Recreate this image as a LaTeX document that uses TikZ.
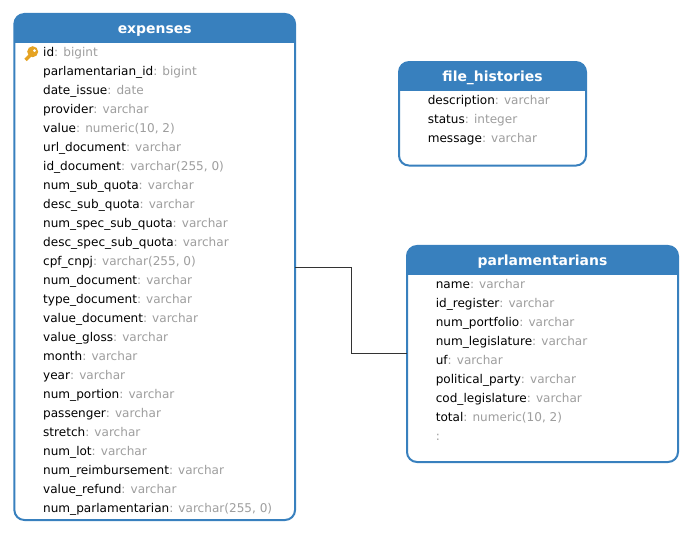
\documentclass[tikz,border=0pt]{standalone}
\usepackage{fontspec}
\setmainfont{DejaVu Sans}
\usetikzlibrary{positioning}

\definecolor{headblue}{HTML}{3880BE}
\definecolor{typegray}{HTML}{9E9E9E}
\definecolor{keyorange}{HTML}{E5A323}
\newcommand{\ctype}[1]{\textcolor{typegray}{: #1}}

\begin{document}
\begin{tikzpicture}[x=0.75pt, y=-0.75pt]
		\tikzset{
			tablebox/.style={draw=headblue, line width=1.5pt, rounded corners=7.5pt, outer sep=0pt, fill=white,
				path picture={\fill[headblue, sharp corners] (path picture bounding box.north west) rectangle ([yshift=-22pt]path picture bounding box.north east);}},
			tabletitle/.style={font=\fontsize{10.45}{12}\selectfont\bfseries, text=white, inner sep=0pt, outer sep=0pt, minimum height=22pt, text height=8.6pt, text depth=1.4pt},
			colrow/.style={font=\fontsize{9.05}{11}\selectfont, inner sep=0pt, outer sep=0pt, minimum height=14.25pt, text height=7pt, text depth=2pt, anchor=north west},
			rowbelow/.style={below=0pt of #1.south west, anchor=north west},
			link/.style={draw=black!80, line width=0.75pt}
		}
		\useasboundingbox (0,0) rectangle (692,534);
		
		% Tables
		\node[tablebox, minimum width=210.5pt, minimum height=379.5pt] (expenses) at (154.7,267) {};
		\node[tablebox, minimum width=140.25pt, minimum height=77.6pt] (fileHistories) at (492.5,113.8) {};
		\node[tablebox, minimum width=203.25pt, minimum height=162pt] (parlamentarians) at (542.5,354) {};
		
		% Titles
		\node[tabletitle, below=0pt of expenses.north] (expensesTitle) {expenses};
		\node[tabletitle, below=0pt of fileHistories.north] (fileHistoriesTitle) {file\_histories};
		\node[tabletitle, below=0pt of parlamentarians.north] (parlamentariansTitle) {parlamentarians};
		
		% Columns of expenses
		\node[colrow, below right=22.2pt and 21.6pt of expenses.north west] (expId) {id\ctype{bigint}};
		\node[colrow, rowbelow=expId] (expParlId) {parlamentarian\_id\ctype{bigint}};
		\node[colrow, rowbelow=expParlId] (expDate) {date\_issue\ctype{date}};
		\node[colrow, rowbelow=expDate] (expProvider) {provider\ctype{varchar}};
		\node[colrow, rowbelow=expProvider] (expValue) {value\ctype{numeric(10, 2)}};
		\node[colrow, rowbelow=expValue] (expUrl) {url\_document\ctype{varchar}};
		\node[colrow, rowbelow=expUrl] (expIdDoc) {id\_document\ctype{varchar(255, 0)}};
		\node[colrow, rowbelow=expIdDoc] (expNumSub) {num\_sub\_quota\ctype{varchar}};
		\node[colrow, rowbelow=expNumSub] (expDescSub) {desc\_sub\_quota\ctype{varchar}};
		\node[colrow, rowbelow=expDescSub] (expNumSpec) {num\_spec\_sub\_quota\ctype{varchar}};
		\node[colrow, rowbelow=expNumSpec] (expDescSpec) {desc\_spec\_sub\_quota\ctype{varchar}};
		\node[colrow, rowbelow=expDescSpec] (expCpf) {cpf\_cnpj\ctype{varchar(255, 0)}};
		\node[colrow, rowbelow=expCpf] (expNumDoc) {num\_document\ctype{varchar}};
		\node[colrow, rowbelow=expNumDoc] (expTypeDoc) {type\_document\ctype{varchar}};
		\node[colrow, rowbelow=expTypeDoc] (expValueDoc) {value\_document\ctype{varchar}};
		\node[colrow, rowbelow=expValueDoc] (expGloss) {value\_gloss\ctype{varchar}};
		\node[colrow, rowbelow=expGloss] (expMonth) {month\ctype{varchar}};
		\node[colrow, rowbelow=expMonth] (expYear) {year\ctype{varchar}};
		\node[colrow, rowbelow=expYear] (expPortion) {num\_portion\ctype{varchar}};
		\node[colrow, rowbelow=expPortion] (expPassenger) {passenger\ctype{varchar}};
		\node[colrow, rowbelow=expPassenger] (expStretch) {stretch\ctype{varchar}};
		\node[colrow, rowbelow=expStretch] (expLot) {num\_lot\ctype{varchar}};
		\node[colrow, rowbelow=expLot] (expReimb) {num\_reimbursement\ctype{varchar}};
		\node[colrow, rowbelow=expReimb] (expRefund) {value\_refund\ctype{varchar}};
		\node[colrow, rowbelow=expRefund] (expNumParl) {num\_parlamentarian\ctype{varchar(255, 0)}};
		
		% Columns of file_histories
		\node[colrow, below right=22.2pt and 21.6pt of fileHistories.north west] (histDesc) {description\ctype{varchar}};
		\node[colrow, rowbelow=histDesc] (histStatus) {status\ctype{integer}};
		\node[colrow, rowbelow=histStatus] (histMessage) {message\ctype{varchar}};
		
		% Columns of parlamentarians
		\node[colrow, below right=22.2pt and 21.6pt of parlamentarians.north west] (parlName) {name\ctype{varchar}};
		\node[colrow, rowbelow=parlName] (parlRegister) {id\_register\ctype{varchar}};
		\node[colrow, rowbelow=parlRegister] (parlPortfolio) {num\_portfolio\ctype{varchar}};
		\node[colrow, rowbelow=parlPortfolio] (parlLegislature) {num\_legislature\ctype{varchar}};
		\node[colrow, rowbelow=parlLegislature] (parlUf) {uf\ctype{varchar}};
		\node[colrow, rowbelow=parlUf] (parlParty) {political\_party\ctype{varchar}};
		\node[colrow, rowbelow=parlParty] (parlCod) {cod\_legislature\ctype{varchar}};
		\node[colrow, rowbelow=parlCod] (parlTotal) {total\ctype{numeric(10, 2)}};
		\node[colrow, rowbelow=parlTotal] (parlEmpty) {\textcolor{typegray}{:}};
		
		% Primary key icon
		\fill[keyorange, even odd rule] (32.7,51.7) circle (5.5) (34.5,50.7) circle (1.7);
		\draw[keyorange, line width=2.6pt] (30.5,55) -- (25.5,60);
		
		% Relation between the tables
		\coordinate (elbow) at (351.5,267.5);
		\draw[link] (expenses.east |- elbow) -- (elbow) |- (parlamentarians.west);
		
	\end{tikzpicture}
\end{document}
